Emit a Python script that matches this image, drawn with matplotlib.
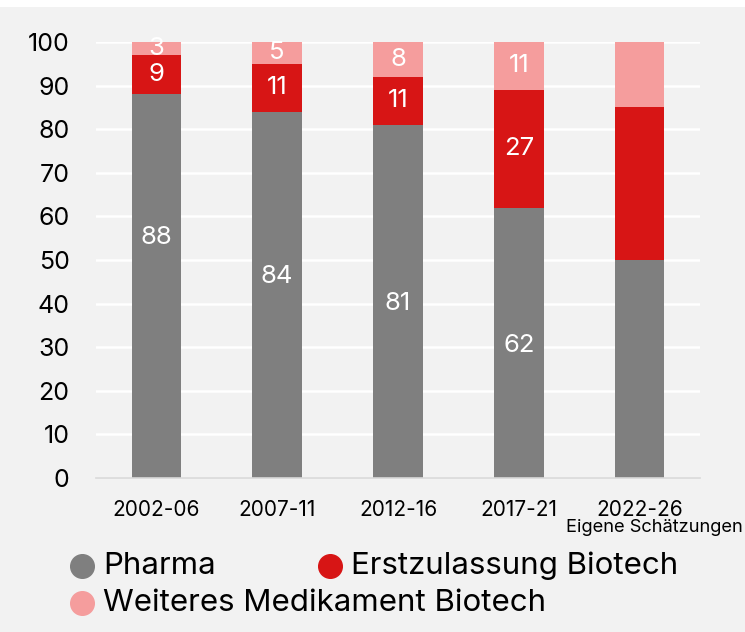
import matplotlib.pyplot as plt
from matplotlib.lines import Line2D
from matplotlib.patches import Rectangle
import numpy as np

plt.rcParams['font.family'] = ['Inter', 'DejaVu Sans']

periods = ['2002-06', '2007-11', '2012-16', '2017-21', '2022-26']
pharma = [88, 84, 81, 62, 50]
erst_biotech = [9, 11, 11, 27, 35]
weiteres_biotech = [3, 5, 8, 11, 15]
show_labels = [True, True, True, True, False]

series_names = ['Pharma', 'Erstzulassung Biotech', 'Weiteres Medikament Biotech']
colors = ['#7f7f7f', '#d71515', '#f59d9d']

# where the pharma number sits inside its segment (fraction of height)
pharma_label_frac = [0.626, 0.551, 0.495, 0.492, 0.5]

fig = plt.figure(figsize=(7.45, 6.32), dpi=100, facecolor='white')
fig.add_artist(Rectangle((0, 0), 1, 1 - 7 / 632, transform=fig.transFigure,
                         facecolor='#f2f2f2', edgecolor='none', zorder=-10))

ax = fig.add_axes([96 / 745, 1 - 478 / 632, 604 / 745, 436 / 632])
ax.set_facecolor('none')

x = np.arange(len(periods))
width = 0.41
bottoms = np.zeros(len(periods))
for vals, col in zip([pharma, erst_biotech, weiteres_biotech], colors):
    ax.bar(x, vals, width, bottom=bottoms, color=col, edgecolor='none', zorder=3)
    bottoms += np.array(vals)

lbl_size = 18.5
for i in range(len(periods)):
    if not show_labels[i]:
        continue
    ax.text(x[i], pharma[i] * pharma_label_frac[i], str(pharma[i]),
            ha='center', va='center', color='white', fontsize=lbl_size, zorder=4)
    ax.text(x[i], pharma[i] + erst_biotech[i] / 2, str(erst_biotech[i]),
            ha='center', va='center', color='white', fontsize=lbl_size, zorder=4)
    ax.text(x[i], pharma[i] + erst_biotech[i] + weiteres_biotech[i] / 2,
            str(weiteres_biotech[i]),
            ha='center', va='center', color='white', fontsize=lbl_size, zorder=4)

ax.set_xlim(-0.5, len(periods) - 0.5)
ax.set_ylim(0, 100)
ax.set_yticks(range(0, 101, 10))
ax.set_xticks(x)
ax.set_xticklabels(periods)
ax.tick_params(axis='y', length=0, labelsize=18, pad=19, colors='black')
ax.tick_params(axis='x', length=0, labelsize=15, pad=16, colors='black')
ax.grid(axis='y', color='white', linewidth=1.8, zorder=1)
for s in ['top', 'right', 'left']:
    ax.spines[s].set_visible(False)
ax.spines['bottom'].set_color('#d9d9d9')
ax.spines['bottom'].set_linewidth(1.2)
ax.spines['bottom'].set_zorder(5)

fig.text(743 / 745, 1 - 528 / 632, 'Eigene Schätzungen', ha='right', va='center',
         fontsize=13.2, color='black')

# legend laid out in a flowing row like the original
legend_pos = [(82, 566), (330, 566), (82, 603)]
for name, col, (px, py) in zip(series_names, colors, legend_pos):
    fig.add_artist(Line2D([px / 745], [1 - py / 632], marker='o', markersize=17,
                          color=col, linestyle='none', transform=fig.transFigure))
    fig.text((px + 21) / 745, 1 - py / 632, name, ha='left', va='center',
             fontsize=22.5, color='black')

fig.savefig('out.png', dpi=100, facecolor=fig.get_facecolor())
